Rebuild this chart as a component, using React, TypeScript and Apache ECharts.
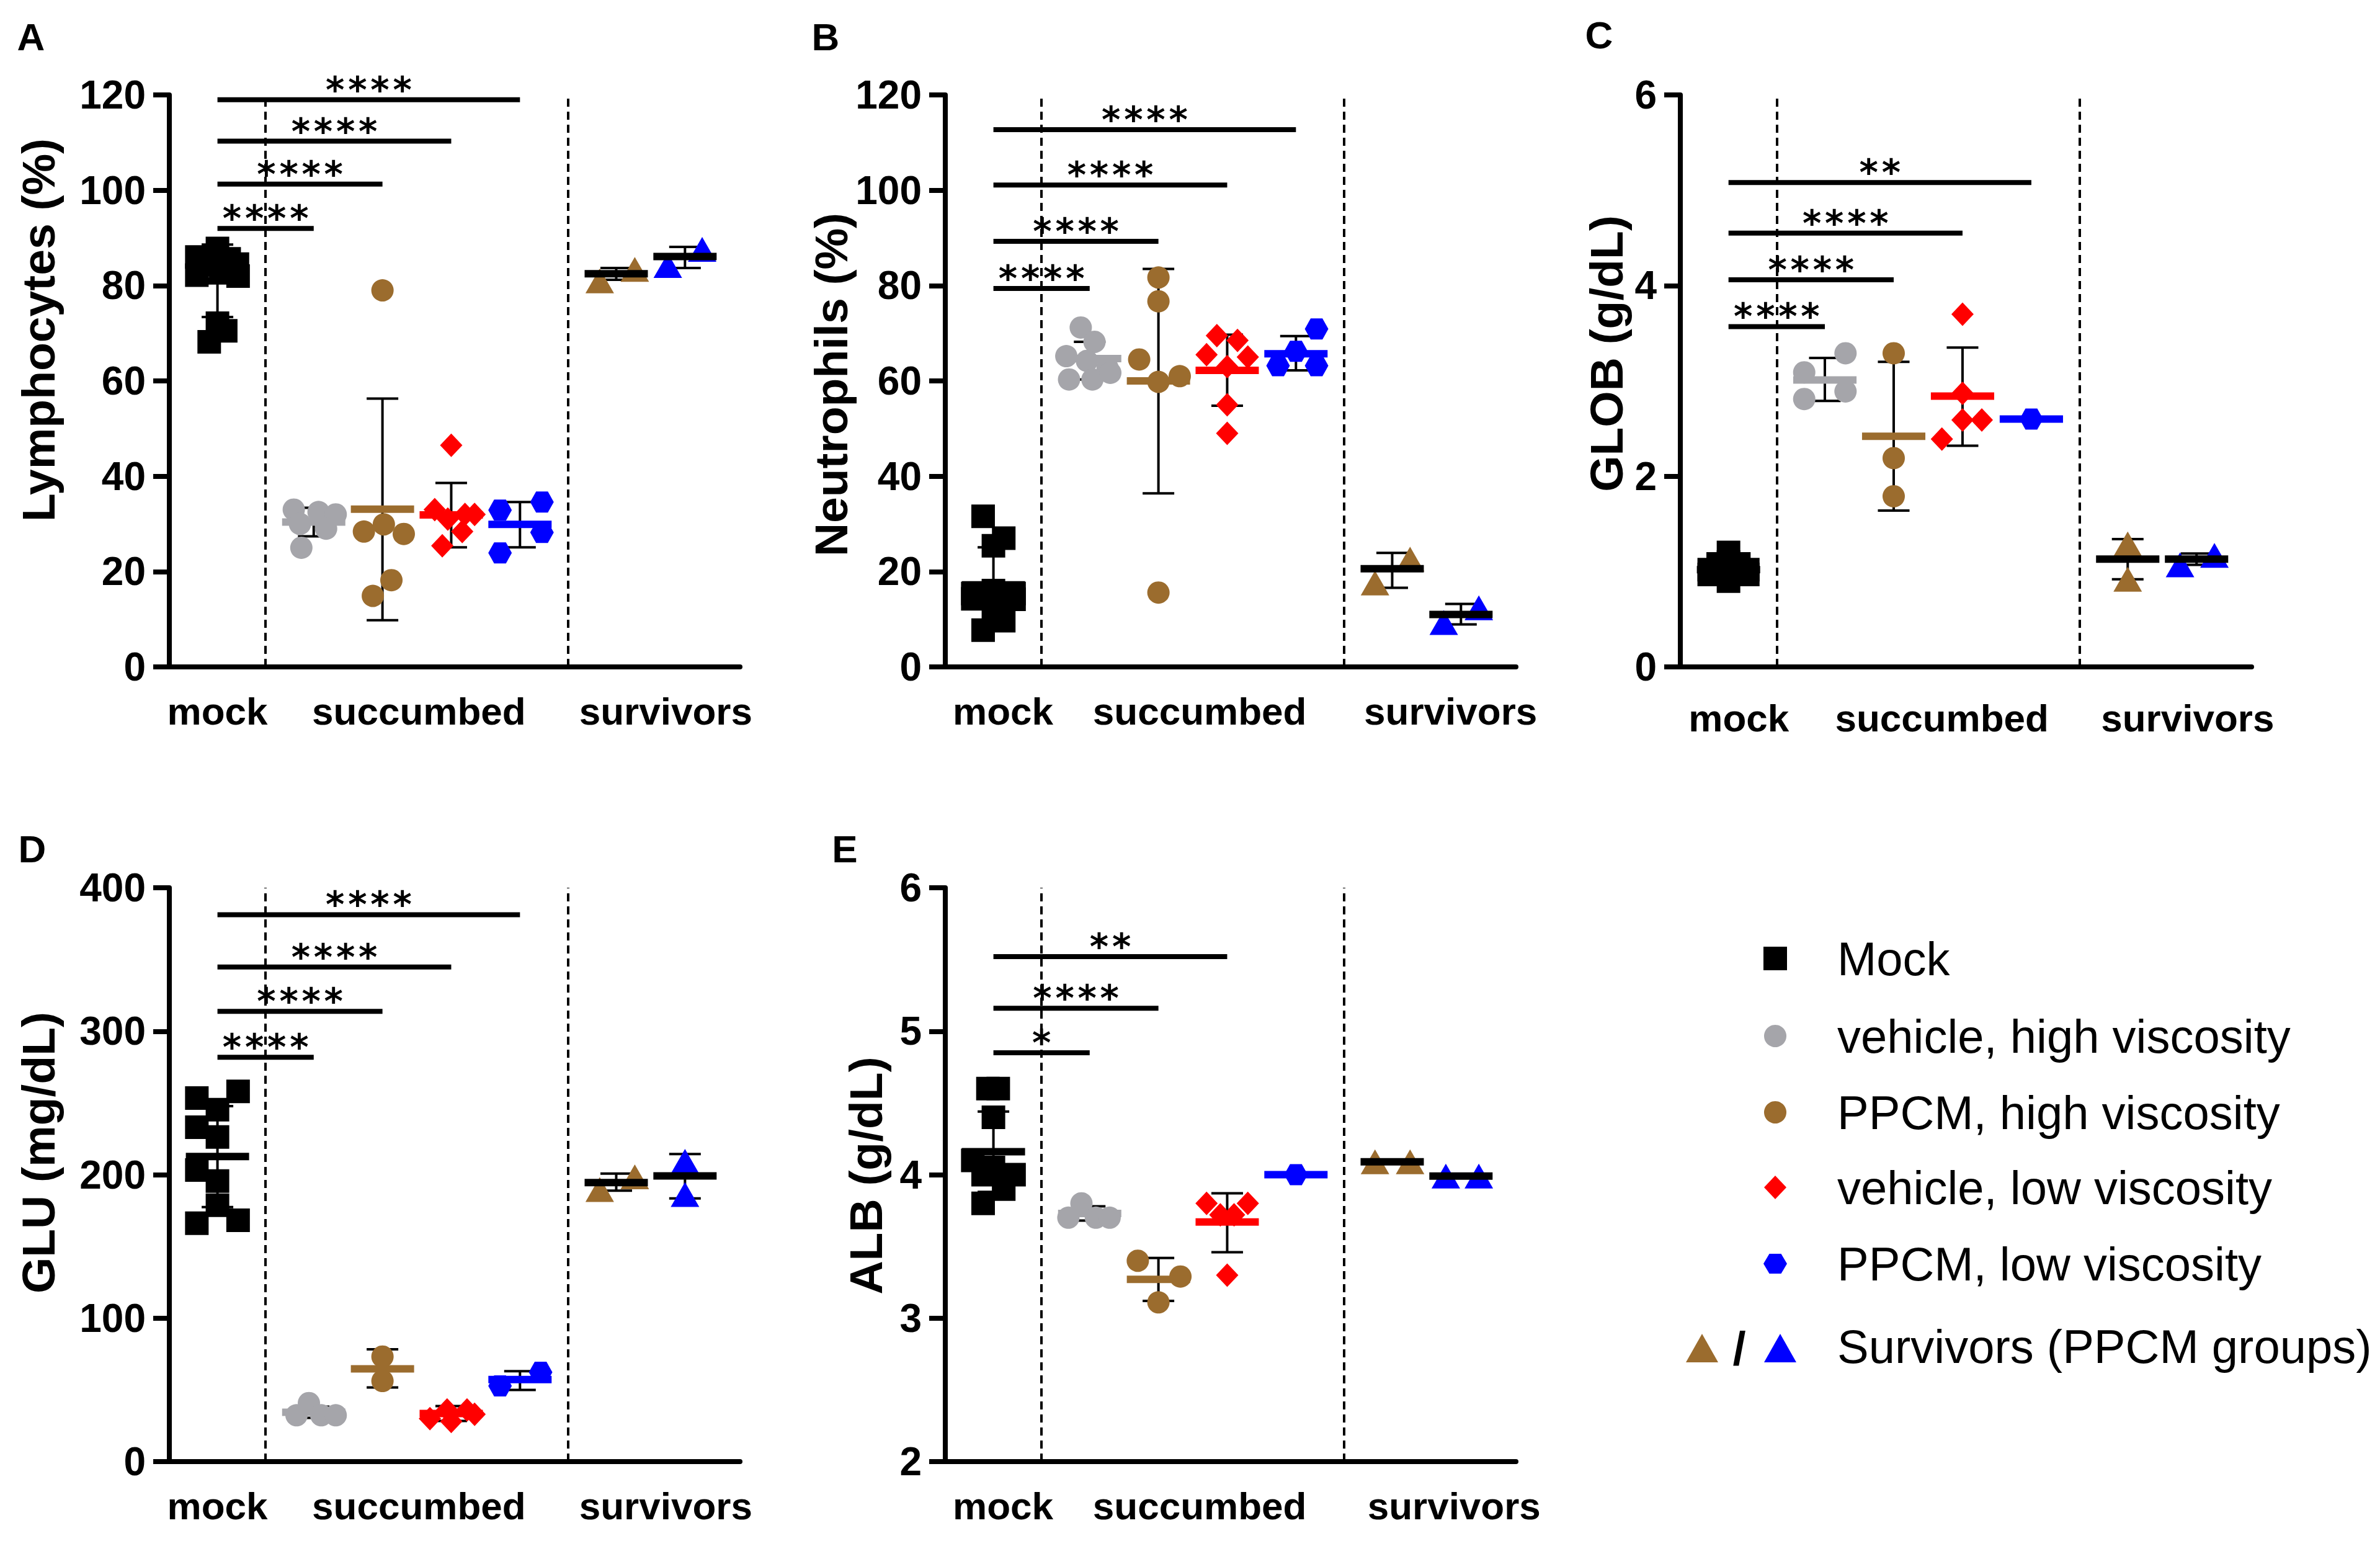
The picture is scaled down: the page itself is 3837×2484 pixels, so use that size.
import React, { useEffect, useRef } from 'react';
import * as echarts from 'echarts';

const W = 3837;
const H = 2484;
const FONT = '"Liberation Sans", Arial, Helvetica, sans-serif';
const STAR_FONT = '"DejaVu Sans", "Liberation Sans", sans-serif';

// x position (axis units) of each group: mock, vehicle-high, PPCM-high, vehicle-low, PPCM-low, survivors PPCM-high, survivors PPCM-low
const GROUP_POS = [0, 1.4, 2.4, 3.4, 4.4, 5.8, 6.8];
const SEPARATORS = [0.7, 5.1];
const CATEGORY_NAMES = ['mock', 'succumbed', 'survivors'];
const LEGEND_NAMES = ['Mock', 'vehicle, high viscosity', 'PPCM, high viscosity', 'vehicle, low viscosity', 'PPCM, low viscosity'];
const LEGEND_SURVIVORS = 'Survivors (PPCM groups)';

// ---------- A: Lymphocytes (%) ----------  points are [jitter, value]
const lymMock = [[0, 87.8], [0.17, 85.6], [0.29, 84.5], [-0.3, 86.0], [-0.18, 84.3], [-0.3, 82.2], [0.3, 82.0], [0.05, 83.5], [0, 72.1], [0.12, 70.5], [-0.12, 68.2]];
const lymVehHigh = [[-0.29, 33], [0.07, 32.5], [0.32, 32], [-0.2, 30], [0.18, 29], [-0.18, 25]];
const lymPpcmHigh = [[0, 79], [-0.27, 28.4], [0.02, 29.9], [0.31, 27.9], [0.13, 18.2], [-0.14, 14.9]];
const lymVehLow = [[0, 46.5], [-0.24, 33], [0.2, 32], [0.34, 32], [-0.05, 31], [0.16, 28.4], [-0.13, 25.4]];
const lymPpcmLow = [[-0.29, 32.9], [0.32, 34.6], [0.32, 28.2], [-0.29, 23.9]];
const lymSurvHigh = [[-0.24, 81.0], [0.27, 83.4]];
const lymSurvLow = [[-0.25, 84.2], [0.25, 87.6]];
const lymMean = [81.0, 30.4, 33.1, 31.9, 29.9, 82.5, 86.1];
const lymLow = [73.4, 27.4, 9.8, 25.1, 25.1, 81.2, 83.7];
const lymHigh = [88.6, 33.4, 56.3, 38.6, 34.6, 83.7, 88.1];
const lymSig = [[1, 92, '****'], [2, 101.3, '****'], [3, 110.3, '****'], [4, 119, '****']];
const lymLabelPos = [0, 2.93, 6.52];

// ---------- B: Neutrophils (%) ----------
const neuMock = [[-0.15, 31.6], [0.15, 27.0], [0, 25.4], [0, 16.0], [-0.3, 15.4], [0.3, 15.4], [-0.3, 14.3], [0.3, 14.2], [0, 12.5], [0.15, 9.7], [-0.15, 7.7]];
const neuVehHigh = [[-0.13, 71.2], [0.07, 68.2], [-0.34, 65.2], [-0.04, 64.2], [0.26, 62.7], [-0.3, 60.3], [0.04, 60.3], [0.3, 61.7]];
const neuPpcmHigh = [[0, 81.7], [0, 76.7], [-0.28, 64.5], [0, 59.8], [0.31, 61], [0, 15.6]];
const neuVehLow = [[-0.15, 69.5], [0.15, 68.5], [-0.3, 65.5], [0.3, 65], [0, 63], [0, 55], [0, 49]];
const neuPpcmLow = [[0.3, 70.9], [0, 66.2], [-0.26, 63.2], [0.3, 63.2]];
const neuSurvHigh = [[-0.25, 17.6], [0.26, 22.6]];
const neuSurvLow = [[-0.25, 9.3], [0.26, 12.4]];
const neuMean = [17.2, 64.7, 60.0, 62.2, 65.7, 20.6, 11.0];
const neuLow = [9.3, 60.3, 36.4, 54.8, 62.2, 16.6, 8.9];
const neuHigh = [25.1, 68.2, 83.5, 69.7, 69.4, 23.9, 13.2];
const neuSig = [[1, 79.4, '****'], [2, 89.3, '****'], [3, 101.1, '****'], [4, 112.7, '****']];
const neuLabelPos = [0.14, 3.0, 6.65];

// ---------- C: GLOB (g/dL) ----------
const globMock = [[0, 1.2], [-0.28, 1.02], [0, 1.02], [0.28, 1.02], [-0.15, 1.08], [0.15, 1.08], [0, 0.9], [-0.28, 0.97], [0.28, 0.97], [0, 1.1]];
const globVehHigh = [[-0.3, 3.09], [0.3, 3.29], [-0.3, 2.81], [0.3, 2.89]];
const globPpcmHigh = [[0, 3.29], [0, 2.19], [0, 1.79]];
const globVehLow = [[0, 3.7], [0, 2.87], [0.28, 2.59], [0, 2.59], [-0.3, 2.39]];
const globPpcmLow = [[0, 2.6]];
const globSurvHigh = [[0, 1.29], [0, 0.92]];
const globSurvLow = [[-0.24, 1.07], [0.26, 1.17]];
const globMean = [1.02, 3.01, 2.42, 2.84, 2.6, 1.13, 1.13];
const globLow = [0.93, 2.79, 1.64, 2.32, 2.6, 0.92, 1.07];
const globHigh = [1.11, 3.24, 3.2, 3.35, 2.6, 1.34, 1.19];
const globSig = [[1, 3.57, '****'], [2, 4.06, '****'], [3, 4.55, '****'], [4, 5.08, '**']];
const globLabelPos = [0.15, 3.1, 6.67];

// ---------- D: GLU (mg/dL) ----------
const gluMock = [[0.3, 258.1], [-0.3, 253.4], [0, 245.3], [-0.3, 233.1], [0, 226.3], [-0.3, 203.2], [0, 195.6], [0, 178.7], [0.3, 168.2], [-0.3, 166.2]];
const gluVehHigh = [[-0.25, 32.3], [-0.07, 40.8], [0.11, 32.3], [0.32, 32.3]];
const gluPpcmHigh = [[0, 73.2], [0, 56.2]];
const gluVehLow = [[-0.31, 30], [-0.06, 36], [0.23, 36], [0.34, 33], [0, 28]];
const gluPpcmLow = [[-0.29, 52.8], [0.3, 62.3]];
const gluSurvHigh = [[-0.24, 189.6], [0.27, 198.5]];
const gluSurvLow = [[0, 209.3], [0, 186.2]];
const gluMean = [212.6, 34.4, 64.7, 33.5, 57.2, 194.5, 199.1];
const gluLow = [177.4, 30.5, 51.7, 28.3, 50.0, 188.9, 183.5];
const gluHigh = [247.8, 38.3, 78.3, 38.7, 63.0, 200.8, 214.4];
const gluSig = [[1, 281.8, '****'], [2, 313.8, '****'], [3, 344.8, '****'], [4, 381.2, '****']];
const gluLabelPos = [0, 2.93, 6.52];

// ---------- E: ALB (g/dL) ----------
const albMock = [[-0.08, 4.6], [0.07, 4.6], [0, 4.4], [-0.3, 4.1], [0, 4.05], [0.3, 4.0], [-0.15, 4.0], [0.15, 3.9], [-0.15, 3.8]];
const albVehHigh = [[-0.31, 3.7], [-0.12, 3.8], [0.09, 3.7], [0.29, 3.7]];
const albPpcmHigh = [[-0.3, 3.4], [0.32, 3.29], [0, 3.11]];
const albVehLow = [[-0.3, 3.8], [0.3, 3.8], [-0.1, 3.72], [0.1, 3.72], [0, 3.3]];
const albPpcmLow = [[0, 4.0]];
const albSurvHigh = [[-0.25, 4.09], [0.26, 4.09]];
const albSurvLow = [[-0.22, 3.99], [0.26, 3.99]];
const albMean = [4.16, 3.73, 3.27, 3.67, 4.0, 4.09, 3.99];
const albLow = [3.88, 3.68, 3.12, 3.46, 4.0, 4.09, 3.99];
const albHigh = [4.44, 3.78, 3.42, 3.87, 4.0, 4.09, 3.99];
const albSig = [[1, 4.85, '*'], [2, 5.16, '****'], [3, 5.52, '**']];
const albLabelPos = [0.14, 3.0, 6.7];

// ---------- styles ----------
const BLACK = '#000000';
const GRAY = '#a5a5aa';
const BROWN = '#9b6c2e';
const RED = '#ff0000';
const BLUE = '#0000ff';
const HEX = 'path://M0,50 L25,6.7 L75,6.7 L100,50 L75,93.3 L25,93.3 Z';

const GROUP_STYLE = [
  { symbol: 'rect', size: 38, color: BLACK, mean: BLACK },
  { symbol: 'circle', size: 36, color: GRAY, mean: GRAY },
  { symbol: 'circle', size: 36, color: BROWN, mean: BROWN },
  { symbol: 'diamond', size: [36, 38], color: RED, mean: RED },
  { symbol: HEX, size: [38, 34], color: BLUE, mean: BLUE },
  { symbol: 'triangle', size: [46, 40], color: BROWN, mean: BLACK },
  { symbol: 'triangle', size: [46, 40], color: BLUE, mean: BLACK },
];

const PANELS = [
  {
    letter: 'A', letterPos: [50, 59], title: 'Lymphocytes (%)', titlePos: [62, 532],
    grid: { left: 273, top: 153, width: 920, height: 922 }, yMin: 0, yMax: 120, yInt: 20,
    points: [lymMock, lymVehHigh, lymPpcmHigh, lymVehLow, lymPpcmLow, lymSurvHigh, lymSurvLow],
    mean: lymMean, low: lymLow, high: lymHigh, sig: lymSig, labelPos: lymLabelPos, labelMargin: 40,
  },
  {
    letter: 'B', letterPos: [1331, 59], title: 'Neutrophils (%)', titlePos: [1340, 620],
    grid: { left: 1524, top: 153, width: 920, height: 922 }, yMin: 0, yMax: 120, yInt: 20,
    points: [neuMock, neuVehHigh, neuPpcmHigh, neuVehLow, neuPpcmLow, neuSurvHigh, neuSurvLow],
    mean: neuMean, low: neuLow, high: neuHigh, sig: neuSig, labelPos: neuLabelPos, labelMargin: 40,
  },
  {
    letter: 'C', letterPos: [2578, 56], title: 'GLOB (g/dL)', titlePos: [2590, 570],
    grid: { left: 2709, top: 153, width: 921, height: 922 }, yMin: 0, yMax: 6, yInt: 2,
    points: [globMock, globVehHigh, globPpcmHigh, globVehLow, globPpcmLow, globSurvHigh, globSurvLow],
    mean: globMean, low: globLow, high: globHigh, sig: globSig, labelPos: globLabelPos, labelMargin: 51,
  },
  {
    letter: 'D', letterPos: [52, 1368], title: 'GLU (mg/dL)', titlePos: [62, 1858],
    grid: { left: 273, top: 1431, width: 920, height: 925 }, yMin: 0, yMax: 400, yInt: 100,
    points: [gluMock, gluVehHigh, gluPpcmHigh, gluVehLow, gluPpcmLow, gluSurvHigh, gluSurvLow],
    mean: gluMean, low: gluLow, high: gluHigh, sig: gluSig, labelPos: gluLabelPos, labelMargin: 40,
  },
  {
    letter: 'E', letterPos: [1362, 1368], title: 'ALB (g/dL)', titlePos: [1396, 1895],
    grid: { left: 1524, top: 1431, width: 920, height: 925 }, yMin: 2, yMax: 6, yInt: 1,
    points: [albMock, albVehHigh, albPpcmHigh, albVehLow, albPpcmLow, albSurvHigh, albSurvLow],
    mean: albMean, low: albLow, high: albHigh, sig: albSig, labelPos: albLabelPos, labelMargin: 40,
  },
];

const MEAN_HALF = 0.46;
const CAP_HALF = 0.23;

function txt(text: string, x: number, y: number, size: number, weight: string, align = 'center', rotation = 0) {
  return {
    type: 'text', x, y, rotation, silent: true,
    style: {
      text, fill: '#000', fontSize: size, fontWeight: weight, fontFamily: FONT,
      align, verticalAlign: 'middle', textAlign: align, textVerticalAlign: 'middle',
    },
  };
}

function buildOption() {
  const grids: any[] = [];
  const xAxes: any[] = [];
  const yAxes: any[] = [];
  const series: any[] = [];
  const graphics: any[] = [];

  PANELS.forEach((p, i) => {
    grids.push({ ...p.grid, containLabel: false, outerBoundsMode: 'none' });
    xAxes.push({
      gridIndex: i, type: 'value', min: -0.7, max: 7.6,
      axisLine: { show: true, onZero: false, lineStyle: { color: BLACK, width: 8 } },
      axisTick: { show: false }, splitLine: { show: false },
      axisLabel: {
        show: true, customValues: p.labelPos, margin: p.labelMargin,
        fontSize: 62, fontWeight: 'bold', fontFamily: FONT, color: BLACK,
        formatter: (v: number) => {
          const idx = p.labelPos.findIndex((q) => Math.abs(q - v) < 1e-6);
          return idx >= 0 ? CATEGORY_NAMES[idx] : '';
        },
      },
    });
    yAxes.push({
      gridIndex: i, type: 'value', min: p.yMin, max: p.yMax, interval: p.yInt,
      axisLine: { show: true, onZero: false, lineStyle: { color: BLACK, width: 8 } },
      axisTick: { show: true, length: 26, lineStyle: { color: BLACK, width: 8 } },
      axisLabel: { fontSize: 64, fontWeight: 'bold', fontFamily: FONT, color: BLACK, margin: 38 },
      splitLine: { show: false },
    });

    // error bars (under points)
    series.push({
      type: 'custom', xAxisIndex: i, yAxisIndex: i, z: 2, silent: true, clip: false,
      data: p.mean.map((m, g) => [GROUP_POS[g], m, p.low[g], p.high[g]]),
      renderItem: (params: any, api: any) => {
        const x = api.value(0), lo = api.value(2), hi = api.value(3);
        if (!(hi > lo)) return { type: 'group', children: [] };
        const pLo = api.coord([x, lo]);
        const pHi = api.coord([x, hi]);
        const l = api.coord([x - CAP_HALF, lo])[0];
        const r = api.coord([x + CAP_HALF, lo])[0];
        const st = { stroke: BLACK, lineWidth: 4 };
        return {
          type: 'group',
          children: [
            { type: 'line', shape: { x1: pLo[0], y1: pLo[1], x2: pHi[0], y2: pHi[1] }, style: st },
            { type: 'line', shape: { x1: l, y1: pLo[1], x2: r, y2: pLo[1] }, style: st },
            { type: 'line', shape: { x1: l, y1: pHi[1], x2: r, y2: pHi[1] }, style: st },
          ],
        };
      },
    });

    // points
    p.points.forEach((pts, g) => {
      const gs = GROUP_STYLE[g];
      const s: any = {
        type: 'scatter', xAxisIndex: i, yAxisIndex: i, z: 3, silent: true,
        symbol: gs.symbol, symbolSize: gs.size,
        itemStyle: { color: gs.color, opacity: 1 },
        emphasis: { disabled: true },
        data: pts.map(([o, v]) => [GROUP_POS[g] + o, v]),
      };
      if (g === 0) {
        s.markLine = {
          silent: true, symbol: ['none', 'none'], label: { show: false },
          lineStyle: { color: BLACK, width: 4, type: [13, 8] },
          emphasis: { disabled: true },
          data: SEPARATORS.map((x) => ({ xAxis: x })),
        };
      }
      series.push(s);
    });

    // means (on top of points)
    series.push({
      type: 'custom', xAxisIndex: i, yAxisIndex: i, z: 4, silent: true, clip: false,
      data: p.mean.map((m, g) => [GROUP_POS[g], m]),
      renderItem: (params: any, api: any) => {
        const x = api.value(0), m = api.value(1);
        const a = api.coord([x - MEAN_HALF, m]);
        const b = api.coord([x + MEAN_HALF, m]);
        return {
          type: 'line', shape: { x1: a[0], y1: a[1], x2: b[0], y2: b[1] },
          style: { stroke: GROUP_STYLE[params.dataIndex].mean, lineWidth: 12 },
        };
      },
    });

    // significance bars
    series.push({
      type: 'custom', xAxisIndex: i, yAxisIndex: i, z: 4, silent: true, clip: false,
      data: p.sig.map((s) => [GROUP_POS[0], GROUP_POS[s[0] as number], s[1]]),
      renderItem: (params: any, api: any) => {
        const x1 = api.value(0), x2 = api.value(1), y = api.value(2);
        const a = api.coord([x1, y]);
        const b = api.coord([x2, y]);
        const stars = String(p.sig[params.dataIndex][2]).split('').join('\u200A');
        return {
          type: 'group',
          children: [
            { type: 'line', shape: { x1: a[0], y1: a[1], x2: b[0], y2: b[1] }, style: { stroke: BLACK, lineWidth: 8 } },
            {
              type: 'text', x: (a[0] + b[0]) / 2, y: a[1] - 16,
              style: {
                text: stars, fill: BLACK, fontSize: 58, fontWeight: 'bold', fontFamily: STAR_FONT,
                align: 'center', verticalAlign: 'middle', textAlign: 'center', textVerticalAlign: 'middle',
              },
            },
          ],
        };
      },
    });

    graphics.push(txt(p.letter, p.letterPos[0], p.letterPos[1], 62, 'bold'));
    graphics.push(txt(p.title, p.titlePos[0], p.titlePos[1], 75, 'bold', 'center', Math.PI / 2));
  });

  // legend
  const lx = 2862;
  const rows = [1545, 1670, 1793, 1914, 2037];
  const textX = 2962;
  graphics.push({ type: 'rect', silent: true, shape: { x: lx - 19, y: rows[0] - 19, width: 38, height: 38 }, style: { fill: BLACK } });
  graphics.push({ type: 'circle', silent: true, shape: { cx: lx, cy: rows[1], r: 18 }, style: { fill: GRAY } });
  graphics.push({ type: 'circle', silent: true, shape: { cx: lx, cy: rows[2], r: 18 }, style: { fill: BROWN } });
  graphics.push({
    type: 'polygon', silent: true,
    shape: { points: [[lx, rows[3] - 19], [lx + 18, rows[3]], [lx, rows[3] + 19], [lx - 18, rows[3]]] },
    style: { fill: RED },
  });
  graphics.push({
    type: 'polygon', silent: true,
    shape: { points: [[lx - 19, rows[4]], [lx - 9.5, rows[4] - 16], [lx + 9.5, rows[4] - 16], [lx + 19, rows[4]], [lx + 9.5, rows[4] + 16], [lx - 9.5, rows[4] + 16]] },
    style: { fill: BLUE },
  });
  const sy = 2173;
  const tri = (cx: number, color: string) => ({
    type: 'polygon', silent: true,
    shape: { points: [[cx, sy - 23], [cx + 26, sy + 23], [cx - 26, sy + 23]] },
    style: { fill: color },
  });
  graphics.push(tri(2744, BROWN));
  graphics.push(tri(2870, BLUE));
  graphics.push(txt('/', 2804, sy, 76, 'bold'));
  LEGEND_NAMES.forEach((n, k) => graphics.push(txt(n, textX, rows[k], 76, 'normal', 'left')));
  graphics.push(txt(LEGEND_SURVIVORS, textX, sy - 3, 76, 'normal', 'left'));

  return {
    animation: false,
    backgroundColor: '#ffffff',
    grid: grids,
    xAxis: xAxes,
    yAxis: yAxes,
    series,
    graphic: { elements: graphics },
  };
}

export default function App() {
  const ref = useRef<HTMLDivElement>(null);
  useEffect(() => {
    document.body.style.margin = '0';
    const chart = echarts.init(ref.current as HTMLDivElement, null, { renderer: 'svg', width: W, height: H });
    chart.setOption(buildOption() as any);
    return () => chart.dispose();
  }, []);
  return <div ref={ref} style={{ width: W, height: H, background: '#fff', overflow: 'hidden' }} />;
}
